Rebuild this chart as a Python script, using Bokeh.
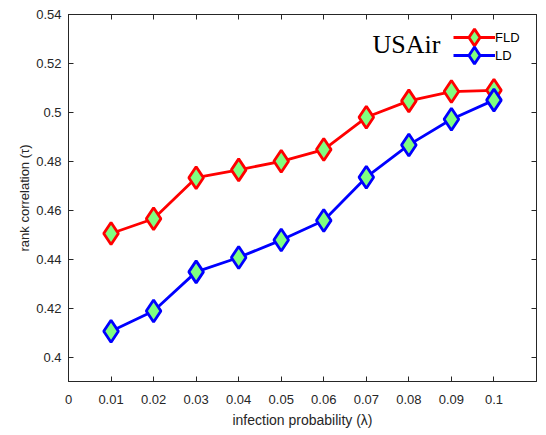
from bokeh.plotting import figure
from bokeh.models import (LinearAxis, FixedTicker, Range1d, Legend, LegendItem, Label)
from bokeh.embed import file_html
from bokeh.resources import INLINE

# data
lam = [0.01, 0.02, 0.03, 0.04, 0.05, 0.06, 0.07, 0.08, 0.09, 0.1]
fld = [0.4505, 0.4565, 0.4733, 0.4765, 0.4800, 0.4848, 0.4980, 0.5047, 0.5085, 0.5090]
ld = [0.4105, 0.4188, 0.4348, 0.4407, 0.4478, 0.4558, 0.4735, 0.4867, 0.4972, 0.5050]
x_ticks = [0, 0.01, 0.02, 0.03, 0.04, 0.05, 0.06, 0.07, 0.08, 0.09, 0.1]
x_tick_labels = ["0", "0.01", "0.02", "0.03", "0.04", "0.05", "0.06", "0.07", "0.08", "0.09", "0.1"]
y_ticks = [0.4, 0.42, 0.44, 0.46, 0.48, 0.5, 0.52, 0.54]
y_tick_labels = ["0.4", "0.42", "0.44", "0.46", "0.48", "0.5", "0.52", "0.54"]

AX = "#262626"
FONT = "Liberation Sans"
GREEN = "#80FF80"

p = figure(width=537, height=433, output_backend="svg", toolbar_location=None,
           x_range=Range1d(0, 0.11), y_range=Range1d(0.39, 0.54),
           min_border_left=68, min_border_right=1, min_border_top=14, min_border_bottom=52,
           x_axis_location=None, y_axis_location=None)
p.xgrid.visible = False
p.ygrid.visible = False
p.outline_line_color = AX
p.outline_line_width = 1
p.background_fill_color = "white"
p.border_fill_color = "white"

def style_axis(ax):
    ax.axis_line_color = AX
    ax.major_tick_line_color = AX
    ax.major_tick_in = 5
    ax.major_tick_out = 0
    ax.minor_tick_line_color = None
    ax.major_label_text_font = FONT
    ax.major_label_text_font_size = "13px"
    ax.major_label_text_color = AX
    ax.axis_label_text_font = FONT
    ax.axis_label_text_font_size = "14px"
    ax.axis_label_text_font_style = "normal"
    ax.axis_label_text_color = AX

xb = LinearAxis(ticker=FixedTicker(ticks=x_ticks), axis_label="infection probability (λ)")
xb.major_label_overrides = {t: s for t, s in zip(x_ticks, x_tick_labels)}
style_axis(xb)
xb.major_label_standoff = 13
xb.axis_label_standoff = 5
p.add_layout(xb, "below")

xt = LinearAxis(ticker=FixedTicker(ticks=x_ticks))
style_axis(xt)
xt.major_label_overrides = {t: "" for t in x_ticks}
xt.major_label_standoff = 0
p.add_layout(xt, "above")

yl = LinearAxis(ticker=FixedTicker(ticks=y_ticks), axis_label="rank correlation (τ)")
yl.major_label_overrides = {t: s for t, s in zip(y_ticks, y_tick_labels)}
style_axis(yl)
yl.axis_label_text_font_size = "13px"
yl.major_label_standoff = 7
yl.axis_label_standoff = 1
p.add_layout(yl, "left")

yr = LinearAxis(ticker=FixedTicker(ticks=y_ticks))
style_axis(yr)
yr.major_label_overrides = {t: "" for t in y_ticks}
yr.major_label_standoff = 0
p.add_layout(yr, "right")

l1 = p.line(lam, fld, line_color="red", line_width=2.8)
s1 = p.scatter(lam, fld, marker="diamond", size=22, fill_color=GREEN,
               line_color="red", line_width=2.8)
l2 = p.line(lam, ld, line_color="blue", line_width=2.8)
s2 = p.scatter(lam, ld, marker="diamond", size=22, fill_color=GREEN,
               line_color="blue", line_width=2.8)

def make_legend(label, rends, loc):
    lg = Legend(items=[LegendItem(label=label, renderers=rends)], location=loc)
    lg.glyph_width = 42
    lg.glyph_height = 42
    lg.label_standoff = 0
    lg.label_text_font = FONT
    lg.label_text_font_size = "13px"
    lg.label_text_color = "black"
    lg.border_line_color = None
    lg.background_fill_alpha = 0
    lg.padding = 0
    lg.margin = 0
    return lg

p.add_layout(make_legend("FLD", [l1, s1], (385, 323)))
p.add_layout(make_legend("LD", [l2, s2], (385, 305)))

title = Label(x=304, y=337, x_units="screen", y_units="screen", text="USAir",
              text_font="Liberation Serif", text_font_size="26px", text_color="black",
              text_baseline="alphabetic")
p.add_layout(title)

open("out.html", "w").write(file_html(p, INLINE))
